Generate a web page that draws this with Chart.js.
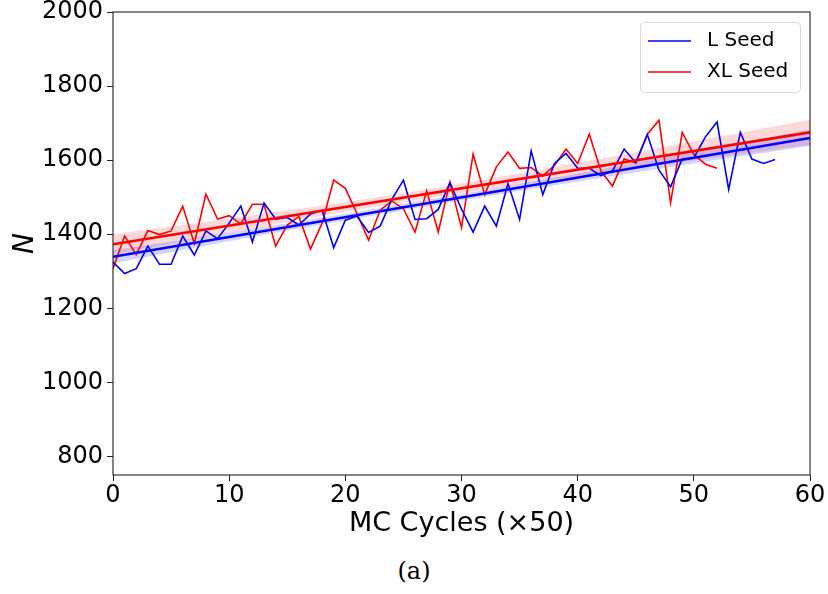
<!DOCTYPE html>
<html>
<head>
<meta charset="utf-8">
<script src="https://cdn.jsdelivr.net/npm/chart.js@4.4.1/dist/chart.umd.min.js"></script>
<style>
  body { margin: 0; background: #fff; }
  #wrap { position: relative; width: 828px; height: 548px; }
  #cap { position: absolute; left: 0; top: 557px; width: 828px; text-align: center;
         font-family: "DejaVu Serif", serif; font-size: 24px; color: #000; }
</style>
</head>
<body>
<div id="wrap"><canvas id="grafico"></canvas></div>
<div id="cap">(a)</div>
<script>
// N per MC cycle (x50)
const lSeed = [1325, 1294, 1307, 1368, 1319, 1319, 1395, 1344, 1409, 1388,
               1430, 1476, 1379, 1484, 1441, 1445, 1425, 1455, 1465, 1364,
               1438, 1449, 1405, 1422, 1494, 1546, 1440, 1442, 1467, 1539,
               1468, 1406, 1476, 1422, 1537, 1440, 1625, 1507, 1591, 1618,
               1578, 1578, 1558, 1571, 1630, 1593, 1669, 1573, 1528, 1603,
               1606, 1663, 1703, 1521, 1675, 1603, 1591, 1602];
const xlSeed = [1307, 1395, 1345, 1410, 1399, 1409, 1476, 1375, 1508, 1441,
                1450, 1428, 1481, 1481, 1368, 1425, 1448, 1360, 1430, 1546,
                1524, 1456, 1384, 1465, 1490, 1469, 1406, 1517, 1406, 1541,
                1418, 1616, 1507, 1582, 1622, 1578, 1580, 1557, 1586, 1630,
                1591, 1670, 1571, 1530, 1603, 1593, 1670, 1708, 1485, 1675,
                1615, 1589, 1578];

// regression lines (end points) and confidence bands
const fitX = [0, 60];
const lFit = [1339, 1660];
const xlFit = [1373, 1675];
const bandX = [0, 10, 20, 30, 40, 50, 60];
const lUpper = [1357, 1405, 1455, 1509, 1564, 1623, 1682];
const lLower = [1321, 1381, 1437, 1491, 1542, 1591, 1638];
const xlUpper = [1400, 1442, 1487, 1537, 1592, 1651, 1709];
const xlLower = [1346, 1404, 1461, 1511, 1556, 1599, 1641];

const yTicks = [800, 1000, 1200, 1400, 1600, 1800, 2000];
const xTicks = [0, 10, 20, 30, 40, 50, 60];

const pts = (xs, ys) => ys.map((v, i) => ({ x: xs[i], y: v }));
const idx = arr => arr.map((v, i) => i);

const AXIS = '#222';

// frame on all four sides, like matplotlib spines
const marco = {
  id: 'marco',
  afterDatasetsDraw(chart) {
    const { ctx, chartArea: a } = chart;
    ctx.save();
    ctx.strokeStyle = AXIS;
    ctx.lineWidth = 1.1;
    ctx.strokeRect(a.left, a.top, a.right - a.left, a.bottom - a.top);
    ctx.restore();
  }
};

// legend inside the upper right corner
const leyenda = {
  id: 'leyenda',
  afterDraw(chart) {
    const { ctx, chartArea: a } = chart;
    const items = chart.data.datasets.filter(d => d.enLeyenda);
    const w = 160, h = 70;
    const x0 = a.right - 10 - w, y0 = a.top + 10;
    ctx.save();
    ctx.fillStyle = 'rgba(255,255,255,0.8)';
    ctx.strokeStyle = '#d9d9d9';
    ctx.lineWidth = 1;
    ctx.beginPath();
    ctx.roundRect(x0 + 0.5, y0 + 0.5, w, h, 4);
    ctx.fill();
    ctx.stroke();
    ctx.font = '20px "DejaVu Sans"';
    ctx.textBaseline = 'middle';
    items.forEach((d, i) => {
      const y = y0 + 19 + i * 31;
      ctx.strokeStyle = d.borderColor;
      ctx.lineWidth = 1.5;
      ctx.beginPath();
      ctx.moveTo(x0 + 8, y);
      ctx.lineTo(x0 + 51, y);
      ctx.stroke();
      ctx.fillStyle = '#000';
      ctx.fillText(d.label, x0 + 67, y);
    });
    ctx.restore();
  }
};

const ctx = document.getElementById('grafico').getContext('2d');
new Chart(ctx, {
  type: 'line',
  data: {
    datasets: [
      { label: 'L fit', data: pts(fitX, lFit), borderColor: 'blue', borderWidth: 2.6,
        pointRadius: 0, order: 1 },
      { label: 'XL fit', data: pts(fitX, xlFit), borderColor: 'red', borderWidth: 2.6,
        pointRadius: 0, order: 1 },
      { label: 'L Seed', data: pts(idx(lSeed), lSeed), borderColor: 'blue', borderWidth: 1.6,
        pointRadius: 0, order: 2, enLeyenda: true },
      { label: 'XL Seed', data: pts(idx(xlSeed), xlSeed), borderColor: 'red', borderWidth: 1.6,
        pointRadius: 0, order: 2, enLeyenda: true },
      { label: 'L up', data: pts(bandX, lUpper), borderWidth: 0, pointRadius: 0, tension: 0.4,
        fill: '+1', backgroundColor: 'rgba(0,0,255,0.17)', order: 3 },
      { label: 'L low', data: pts(bandX, lLower), borderWidth: 0, pointRadius: 0, tension: 0.4,
        order: 3 },
      { label: 'XL up', data: pts(bandX, xlUpper), borderWidth: 0, pointRadius: 0, tension: 0.4,
        fill: '+1', backgroundColor: 'rgba(255,0,0,0.15)', order: 3 },
      { label: 'XL low', data: pts(bandX, xlLower), borderWidth: 0, pointRadius: 0, tension: 0.4,
        order: 3 }
    ]
  },
  options: {
    responsive: true,
    maintainAspectRatio: false,
    animation: false,
    layout: { padding: { top: 12, right: 18, left: 0, bottom: 0 } },
    plugins: {
      legend: { display: false },
      tooltip: { enabled: false }
    },
    scales: {
      x: {
        type: 'linear', min: 0, max: 60,
        afterBuildTicks: s => { s.ticks = xTicks.map(v => ({ value: v })); },
        afterFit: s => { s.height = 73; s.paddingLeft = 0; s.paddingRight = 0; },
        grid: { drawOnChartArea: false, tickLength: 6, color: AXIS },
        border: { display: false },
        ticks: { padding: 0, color: '#000', font: { family: 'DejaVu Sans', size: 24 },
                 callback: v => String(v) },
        title: { display: true, text: 'MC Cycles (×50)', color: '#000',
                 font: { family: 'DejaVu Sans', size: 27 }, padding: { top: 0, bottom: 8 } }
      },
      y: {
        type: 'linear', min: 750, max: 2000,
        afterBuildTicks: s => { s.ticks = yTicks.map(v => ({ value: v })); },
        afterFit: s => { s.width = 113; s.paddingTop = 0; s.paddingBottom = 0; },
        grid: { drawOnChartArea: false, tickLength: 6, color: AXIS },
        border: { display: false },
        ticks: { padding: 4, color: '#000', font: { family: 'DejaVu Sans', size: 24 },
                 callback: v => String(v) },
        title: { display: true, text: 'N', color: '#000',
                 font: { family: 'DejaVu Sans', size: 28, style: 'italic' }, padding: { top: 9, bottom: 0 } }
      }
    }
  },
  plugins: [marco, leyenda]
});
</script>
</body>
</html>
